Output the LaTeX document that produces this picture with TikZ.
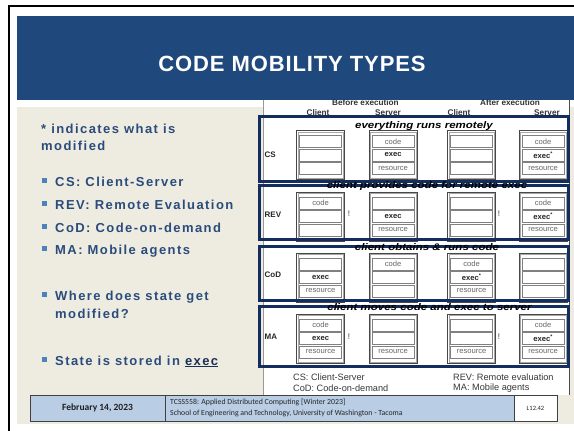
\documentclass[tikz,border=0pt]{standalone}
\usepackage{fontspec}
\setmainfont{Liberation Sans}
\newfontfamily\titlefont{Liberation Sans}[LetterSpace=4]
\newfontfamily\bodyfont{Liberation Sans}[LetterSpace=11]
\newfontfamily\figfont{Liberation Sans}
\newfontfamily\tagfont{Liberation Sans}[FakeStretch=1.2]
\newfontfamily\footfont{Carlito}

\definecolor{bannerblue}{HTML}{1F497D}
\definecolor{slidetan}{HTML}{EEECE1}
\definecolor{textblue}{HTML}{2A4B7C}
\definecolor{bulletblue}{HTML}{4F81BD}
\definecolor{framenavy}{HTML}{132D5E}
\definecolor{footblue}{HTML}{B9CDE5}
\definecolor{execblue}{HTML}{1B2F55}

% one client/server column: name, left x, top y, three cell texts
\newcommand\mobstack[6]{%
  \node[stackbox] (#1) at (#2,#3) {};
  \draw[stackinner] ([shift={(1.8pt,-1.8pt)}]#1.north west) rectangle ([shift={(-1.8pt,1.8pt)}]#1.south east);
  \node[cellbox] (#1-a) at ([yshift=-5pt]#1.north) {#4};
  \node[cellbox] (#1-b) at ([yshift=-18.5pt]#1.north) {#5};
  \node[cellbox] (#1-c) at ([yshift=-32pt]#1.north) {#6};
}
\newcommand\execcell{\textbf{\textcolor{black!85}{exec}}}
\newcommand\execmod{\textbf{\textcolor{black!85}{exec\textsuperscript{*}}}}

\begin{document}
\begin{tikzpicture}[x=1pt,y=-1pt,
  titletext/.style={font=\titlefont\bfseries\fontsize{22}{26}\selectfont, text=white, inner sep=0},
  bodytext/.style={font=\bodyfont\bfseries\fontsize{13}{15}\selectfont, text=textblue, anchor=base west, inner sep=0},
  bulletsq/.style={fill=bulletblue, minimum size=4.6pt, inner sep=0},
  headtext/.style={font=\figfont\bfseries\fontsize{8.2}{9}\selectfont, text=black!80, inner sep=0},
  rowtext/.style={font=\figfont\bfseries\fontsize{8}{9}\selectfont, text=black!85, anchor=west, inner sep=0},
  bangtext/.style={font=\figfont\fontsize{8}{9}\selectfont, text=black!80, inner sep=0},
  stackbox/.style={anchor=north west, draw=black!72, line width=1.3pt, fill=white, minimum width=48pt, minimum height=49pt, inner sep=0},
  stackinner/.style={draw=black!35, line width=.5pt},
  cellbox/.style={anchor=north, draw=black!50, line width=.8pt, fill=white, minimum width=42pt, minimum height=12pt, inner sep=0, font=\figfont\fontsize{7.6}{8}\selectfont, text=black!60},
  navyframe/.style={draw=framenavy, line width=3pt},
  tagtext/.style={font=\tagfont\bfseries\itshape\fontsize{9.6}{10}\selectfont, text=black, inner sep=0},
  legendtext/.style={font=\figfont\fontsize{9.2}{10}\selectfont, text=black!78, anchor=west, inner sep=0},
  footcell/.style={draw=black!75, line width=.7pt},
]
\useasboundingbox (0,0) rectangle (574,431);
\fill[white] (0,0) rectangle (574,431);

% slide frame, background and title banner
\draw[line width=2.3pt] (9,431) -- (9,6.2) -- (574,6.2);
\fill[slidetan] (17,107) rectangle (574,424);
\fill[bannerblue] (17,16) rectangle (574,99.5);
\node[titletext] (title) at (292,63.5) {CODE MOBILITY TYPES};

% left column text
\node[bodytext] (note1) at (41,133) {* indicates what is};
\node[bodytext] (note2) at (41,150) {modified};
\foreach \nm/\yy/\txt in {cs/186/{CS: Client-Server}, rev/209/{REV: Remote Evaluation}, cod/232/{CoD: Code-on-demand}, ma/254/{MA: Mobile agents}, where/300/{Where does state get}, state/365/{State is stored in \textcolor{execblue}{\underline{exec}}}} {
  \node[bulletsq] (b-\nm) at (44.6,\yy-5.8) {};
  \node[bodytext] (t-\nm) at (55,\yy) {\txt};
}
\node[bodytext] (t-where2) at (55,318) {modified?};

% figure area
\fill[white] (263,99.5) rectangle (570,395);
\draw[black!40, line width=.6pt] (263.3,99.5) -- (263.3,395);
\draw[black!70, line width=1pt] (569.5,99.5) -- (569.5,395);

\node[headtext] (hd-before) at (365.5,103) {Before execution};
\node[headtext] (hd-after) at (510,103) {After execution};
\node[headtext] (hd-c1) at (318,113) {Client};
\node[headtext] (hd-s1) at (388,113) {Server};
\node[headtext] (hd-c2) at (459,113) {Client};
\node[headtext] (hd-s2) at (547,113) {Server};

% CS row
\mobstack{cs1}{296}{130}{}{}{}
\mobstack{cs2}{368.5}{130}{code}{\execcell}{resource}
\mobstack{cs3}{447}{130}{}{}{}
\mobstack{cs4}{518.5}{130}{code}{\execmod}{resource}
\node[rowtext] (lab-cs) at (264.5,154.5) {CS};

% REV row
\mobstack{rev1}{296}{191.5}{code}{}{}
\mobstack{rev2}{368.5}{191.5}{}{\execcell}{resource}
\mobstack{rev3}{447}{191.5}{}{}{}
\mobstack{rev4}{518.5}{191.5}{code}{\execmod}{resource}
\node[rowtext] (lab-rev) at (264.5,215) {REV};
\node[bangtext] (bang-rev1) at (349,214) {!};
\node[bangtext] (bang-rev2) at (499,214) {!};

% CoD row
\mobstack{cod1}{296}{252.5}{}{\execcell}{resource}
\mobstack{cod2}{368.5}{252.5}{code}{}{}
\mobstack{cod3}{447}{252.5}{code}{\execmod}{resource}
\mobstack{cod4}{518.5}{252.5}{}{}{}
\node[rowtext] (lab-cod) at (264.5,275) {CoD};

% MA row
\mobstack{ma1}{296}{313.5}{code}{\execcell}{resource}
\mobstack{ma2}{368.5}{313.5}{}{}{resource}
\mobstack{ma3}{447}{313.5}{}{}{resource}
\mobstack{ma4}{518.5}{313.5}{code}{\execmod}{resource}
\node[rowtext] (lab-ma) at (264.5,337) {MA};
\node[bangtext] (bang-ma1) at (349,337) {!};
\node[bangtext] (bang-ma2) at (499,337) {!};

% navy frames around each row with their captions
\draw[navyframe] (259.5,116.5) rectangle (568,181);
\draw[navyframe] (259.5,185.5) rectangle (568,239.5);
\draw[navyframe] (259.5,246) rectangle (568,300);
\draw[navyframe] (259.5,306.5) rectangle (568,366.5);
\node[tagtext] (tag-cs) at (424,126) {everything runs remotely};
\node[tagtext] (tag-rev) at (427,186) {client provides code for remote exec};
\node[tagtext] (tag-cod) at (427,247) {client obtains \& runs code};
\node[tagtext] (tag-ma) at (429.5,307) {client moves code and exec to server};

% legend
\node[legendtext] (lg-cs) at (293,377.5) {CS: Client-Server};
\node[legendtext] (lg-cod) at (293,388.5) {CoD: Code-on-demand};
\node[legendtext] (lg-rev) at (453,377.5) {REV: Remote evaluation};
\node[legendtext] (lg-ma) at (453,388.5) {MA: Mobile agents};

% footer bar
\filldraw[footcell, fill=footblue] (30,395) rectangle (165,421);
\filldraw[footcell, fill=footblue] (165,395) rectangle (514,421);
\filldraw[footcell, fill=white] (514,395) rectangle (557,421);
\node[font=\footfont\bfseries\fontsize{9.5}{11}\selectfont, text=black!88, inner sep=0] (f-date) at (97.5,408) {February 14, 2023};
\node[font=\footfont\fontsize{7.8}{10.5}\selectfont, text=black!85, anchor=west, inner sep=0, align=left] (f-course) at (170,408) {TCSS558: Applied Distributed Computing [Winter 2023]\\School of Engineering and Technology, University of Washington - Tacoma};
\node[font=\footfont\fontsize{6.5}{8}\selectfont, text=black!85, inner sep=0] (f-num) at (535.5,408) {L12.42};
\end{tikzpicture}
\end{document}
